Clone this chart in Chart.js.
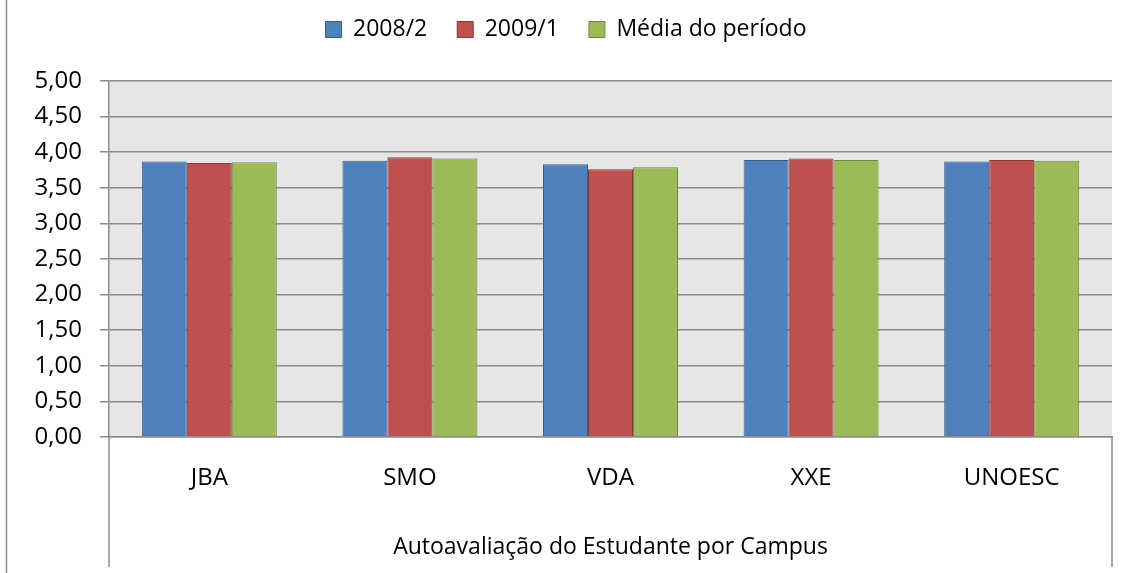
<!DOCTYPE html>
<html>
<head>
<meta charset="utf-8">
<script src="https://cdn.jsdelivr.net/npm/chart.js@4/dist/chart.umd.min.js"></script>
<style>
  html, body { margin: 0; padding: 0; background: #ffffff; }
  #wrap { position: relative; width: 1129px; height: 573px; }
</style>
</head>
<body>
<div id="wrap"><canvas id="c" width="1129" height="573"></canvas></div>
<script>
const categories = ['JBA', 'SMO', 'VDA', 'XXE', 'UNOESC'];
const seriesNames = ['2008/2', '2009/1', 'Média do período'];
const s2008_2 = [3.87, 3.88, 3.83, 3.89, 3.87];
const s2009_1 = [3.85, 3.93, 3.76, 3.91, 3.89];
const sMedia  = [3.86, 3.91, 3.79, 3.89, 3.88];
const yTickLabels = ['0,00','0,50','1,00','1,50','2,00','2,50','3,00','3,50','4,00','4,50','5,00'];
const xAxisTitle = 'Autoavaliação do Estudante por Campus';

const FONT = '"Open Sans", sans-serif';
const LINE = '#8c8c8c';

const decor = {
  id: 'decor',
  beforeLayout(chart) {
    const lg = chart.legend;
    if (lg && !lg._extraPatched) {
      const orig = lg.fit.bind(lg);
      lg.fit = function () { orig(); this.height += 30; };
      lg._extraPatched = true;
    }
  },
  beforeDraw(chart) {
    const {ctx, chartArea: a} = chart;
    ctx.save();
    ctx.fillStyle = '#e6e6e6';
    ctx.fillRect(a.left, a.top, a.right - a.left, a.bottom - a.top);
    ctx.restore();
  },
  afterDraw(chart) {
    const {ctx, chartArea: a} = chart;
    ctx.save();
    ctx.strokeStyle = LINE;
    ctx.lineWidth = 1.5;
    ctx.beginPath();
    ctx.moveTo(6.5, 0); ctx.lineTo(6.5, chart.height);
    ctx.moveTo(a.left, a.bottom); ctx.lineTo(a.left, a.bottom + 130);
    ctx.moveTo(a.right, a.bottom); ctx.lineTo(a.right, a.bottom + 130);
    ctx.stroke();
    ctx.restore();
  }
};

new Chart(document.getElementById('c'), {
  type: 'bar',
  data: {
    labels: categories,
    datasets: [
      { label: seriesNames[0], data: s2008_2, backgroundColor: '#4f81bd', borderColor: '#385d8a', borderWidth: 1 },
      { label: seriesNames[1], data: s2009_1, backgroundColor: '#c0504d', borderColor: '#8c3836', borderWidth: 1 },
      { label: seriesNames[2], data: sMedia,  backgroundColor: '#9bbb59', borderColor: '#71893f', borderWidth: 1 }
    ]
  },
  options: {
    responsive: false,
    animation: false,
    events: [],
    layout: { padding: { left: 20, right: 17, top: -12, bottom: 0 } },
    datasets: { bar: { categoryPercentage: 0.673, barPercentage: 1.0 } },
    plugins: {
      legend: {
        position: 'top',
        align: 'center',
        labels: {
          boxWidth: 16, boxHeight: 16, padding: 30,
          color: '#000', font: { family: FONT, size: 23 }
        }
      },
      tooltip: { enabled: false }
    },
    scales: {
      x: {
        grid: { display: false, drawTicks: false },
        border: { display: true, color: LINE, width: 1.5 },
        ticks: { color: '#000', font: { family: FONT, size: 24 }, padding: 27, maxRotation: 0 },
        title: { display: true, text: xAxisTitle, color: '#000', font: { family: FONT, size: 23 }, padding: { top: 0, bottom: 12 } },
        afterFit(scale) { scale.height = 136; }
      },
      y: {
        min: 0, max: 5,
        grid: { color: LINE, lineWidth: 1.5, tickLength: 9, tickColor: LINE },
        border: { display: true, color: LINE, width: 1.5 },
        ticks: {
          stepSize: 0.5, color: '#000', font: { family: FONT, size: 24 }, padding: 18,
          callback: (v, i) => yTickLabels[i]
        },
        afterFit(scale) { scale.width = 89; }
      }
    }
  },
  plugins: [decor]
});
</script>
</body>
</html>
